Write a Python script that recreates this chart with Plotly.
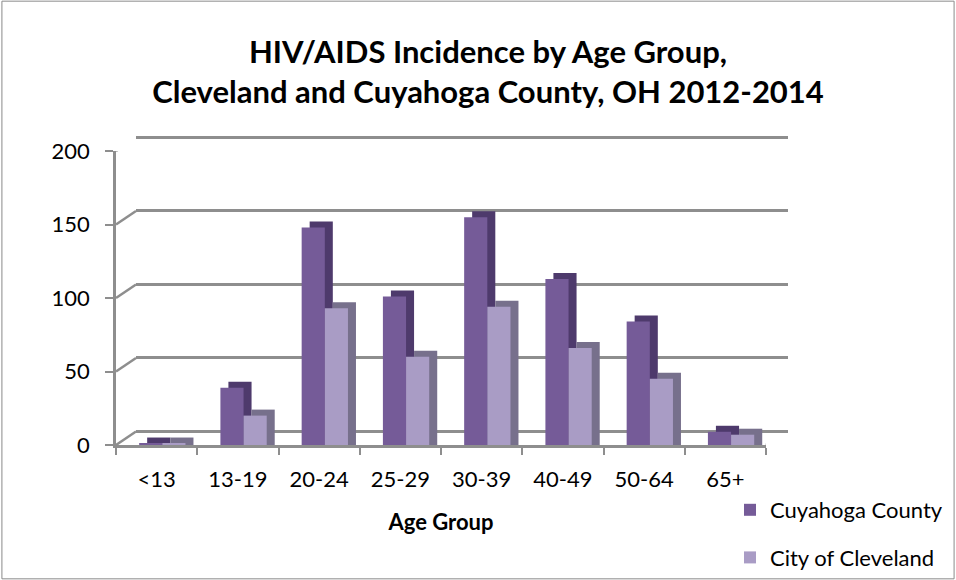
import plotly.graph_objects as go

categories = ["<13", "13-19", "20-24", "25-29", "30-39", "40-49", "50-64", "65+"]
county = [1, 39, 148, 101, 155, 113, 84, 9]
city = [1, 20, 93, 60, 94, 66, 45, 7]
y_ticks = [0, 50, 100, 150, 200]

W, H = 956, 580
# front frame (px)
FX0, FX1 = 116, 766
FY0, FY1 = 445, 151
# back wall (px)
BX0, BX1 = 136, 788
BY0, BY1 = 431.5, 137

px_per_cat = (FX1 - FX0) / len(categories)
px_per_unit = (FY0 - FY1) / 200.0
back_ppu = (BY0 - BY1) / 200.0
PAD = 3  # value padding so edge gridlines are drawn
DX = 8 / px_per_cat
DY = 6 / px_per_unit
BAR_W = 0.285

C_FRONT = "#755b98"
C_SIDE = "#4e3a6c"
C_FRONT2 = "#a99cc5"
C_SIDE2 = "#77708c"
GRID = "#8e8e8e"
FONT = "Lato"

fig = go.Figure()
# empty trace to create back-wall subplot
fig.add_trace(go.Scatter(x=[None], y=[None], xaxis="x", yaxis="y",
                         showlegend=False, hoverinfo="skip"))

fig.add_trace(go.Bar(x=categories, y=[v + DY for v in county], base=0,
                     offset=-0.215 + DX, width=BAR_W, marker_color=C_SIDE,
                     marker_line_width=0, showlegend=False,
                     xaxis="x2", yaxis="y2", hoverinfo="skip"))
fig.add_trace(go.Bar(x=categories, y=county, name="Cuyahoga County",
                     offset=-0.215, width=BAR_W, marker_color=C_FRONT,
                     marker_line_width=0, legendgroup="a",
                     xaxis="x2", yaxis="y2"))
fig.add_trace(go.Bar(x=categories, y=[v + DY for v in city], base=0,
                     offset=-0.215 + BAR_W + DX, width=BAR_W, marker_color=C_SIDE2,
                     marker_line_width=0, showlegend=False,
                     xaxis="x2", yaxis="y2", hoverinfo="skip"))
fig.add_trace(go.Bar(x=categories, y=city, name="City of Cleveland",
                     offset=-0.215 + BAR_W, width=BAR_W, marker_color=C_FRONT2,
                     marker_line_width=0, legendgroup="b",
                     xaxis="x2", yaxis="y2"))

shapes = []
# left wall diagonals at each tick & floor right edge
wall_dx = (BX0 - FX0) / px_per_cat
wall_dy = (FY0 - BY0) / px_per_unit
for v in y_ticks:
    shapes.append(dict(type="line", xref="x2", yref="y2",
                       x0=-0.5, y0=v, x1=-0.5 + wall_dx, y1=v + wall_dy,
                       line=dict(color=GRID, width=2.5), layer="below"))
shapes.append(dict(type="line", xref="x2", yref="y2",
                   x0=len(categories) - 0.5, y0=0,
                   x1=len(categories) - 0.5 + (BX1 - FX1) / px_per_cat, y1=wall_dy,
                   line=dict(color=GRID, width=2.5), layer="below"))
# chart border
shapes.append(dict(type="rect", xref="paper", yref="paper", x0=0.002, y0=0.002,
                   x1=0.998, y1=0.998, line=dict(color="#8a8a8a", width=1)))

fig.update_layout(
    width=W, height=H,
    margin=dict(l=0, r=0, t=0, b=0, autoexpand=False),
    paper_bgcolor="white", plot_bgcolor="rgba(0,0,0,0)",
    barmode="overlay",
    font=dict(family=FONT, size=22, color="#000000"),
    title=dict(text="<b>HIV/AIDS Incidence by Age Group,<br>Cleveland and Cuyahoga County, OH 2012-2014</b>",
               x=488 / W, xanchor="center", y=1 - 63 / H, yanchor="top",
               font=dict(family=FONT, size=31, color="#000000")),
    xaxis=dict(domain=[BX0 / W, BX1 / W], range=[0, 1], visible=False, anchor="y"),
    yaxis=dict(domain=[(H - BY0 - PAD * back_ppu) / H, (H - BY1 + PAD * back_ppu) / H],
               range=[-PAD, 200 + PAD], anchor="x",
               tickvals=y_ticks, showgrid=True, gridcolor=GRID, gridwidth=2.5,
               zeroline=False, showticklabels=False, showline=False, ticks=""),
    xaxis2=dict(domain=[FX0 / W, FX1 / W], anchor="y2", range=[-0.5, len(categories) - 0.5],
                showline=True, linecolor=GRID, linewidth=2.5,
                ticks="outside", tickson="boundaries", ticklen=7, tickwidth=2, tickcolor=GRID,
                showgrid=False, ticklabelstandoff=13,
                title=dict(text="<b>Age Group</b>", standoff=24,
                           font=dict(family=FONT, size=22))),
    yaxis2=dict(domain=[(H - FY0) / H, (H - FY1) / H], anchor="x2", range=[0, 200],
                tickvals=y_ticks, showgrid=False, zeroline=False,
                showline=True, linecolor=GRID, linewidth=2.5,
                ticks="outside", ticklen=8, tickwidth=2, tickcolor=GRID,
                ticklabelstandoff=11),
    legend=dict(x=730 / W, xanchor="left", y=(H - 489) / H, yanchor="top",
                font=dict(family=FONT, size=22), tracegroupgap=16,
                itemwidth=30, bgcolor="rgba(0,0,0,0)"),
    shapes=shapes,
    showlegend=True,
)

fig.write_html("out.html")
